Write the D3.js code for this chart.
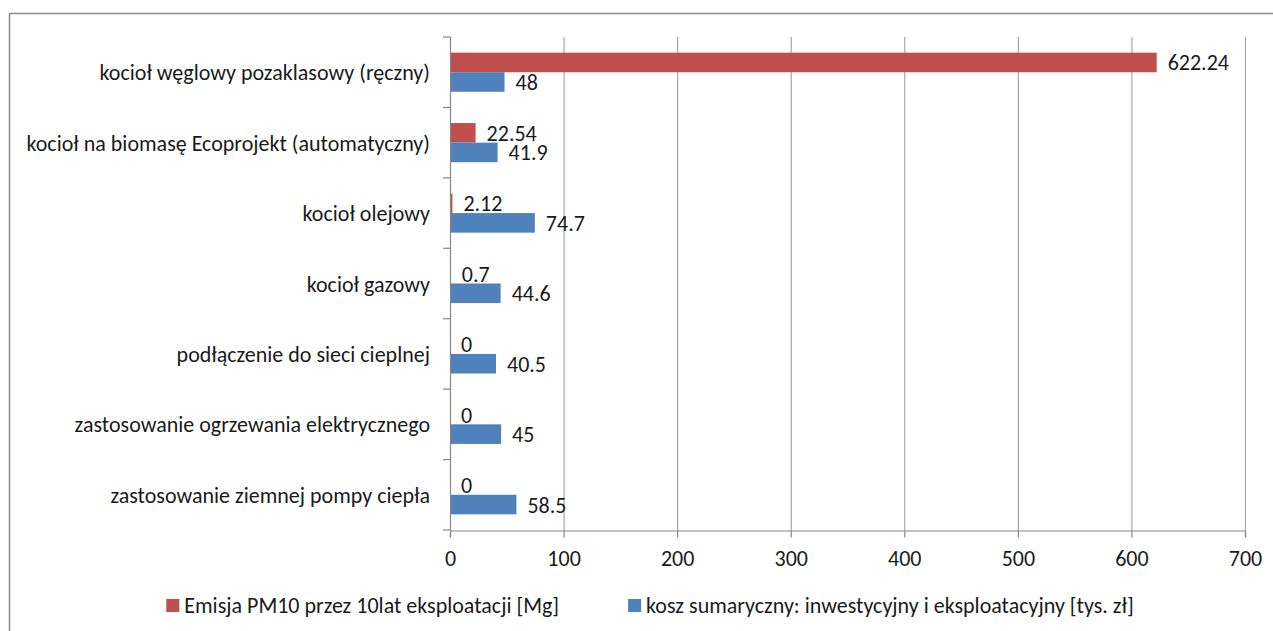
<!DOCTYPE html>
<html>
<head>
<meta charset="utf-8">
<script src="https://cdn.jsdelivr.net/npm/d3@7"></script>
<style>
  body { margin: 0; background: #fff; }
  svg text { font-family: Carlito, Lato, "Open Sans", sans-serif; fill: #1a1a1a; }
</style>
</head>
<body>
<div id="chart"></div>
<script>
var width = 1273;
var height = 631;

var categories = [
    "kocioł węglowy pozaklasowy (ręczny)",
    "kocioł na biomasę Ecoprojekt (automatyczny)",
    "kocioł olejowy",
    "kocioł gazowy",
    "podłączenie do sieci cieplnej",
    "zastosowanie ogrzewania elektrycznego",
    "zastosowanie ziemnej pompy ciepła"
];
var emisja = [622.24, 22.54, 2.12, 0.7, 0, 0, 0];
var koszt = [48, 41.9, 74.7, 44.6, 40.5, 45, 58.5];
var seriesNames = [
    "Emisja PM10 przez 10lat eksploatacji [Mg]",
    "kosz sumaryczny: inwestycyjny i eksploatacyjny [tys. zł]"
];
var seriesColors = ["#C0504D", "#4F81BD"];
var xTicks = [0, 100, 200, 300, 400, 500, 600, 700];

var fontSize = 22;

var svg = d3.select("#chart")
    .append("svg")
    .attr("width", width)
    .attr("height", height);

// outer chart frame
svg.append("rect")
    .attr("x", 9.5)
    .attr("y", 13.5)
    .attr("width", 1300)
    .attr("height", 700)
    .attr("fill", "none")
    .attr("stroke", "#8c8c8c")
    .attr("stroke-width", 1.5);

var xScale = d3.scaleLinear()
    .domain([0, 700])
    .range([450, 1245]);

var yScale = d3.scaleBand()
    .domain(categories)
    .range([37, 530])
    .padding(0);

var ySub = d3.scaleBand()
    .domain([0, 1])
    .range([0, yScale.bandwidth()])
    .paddingInner(0)
    .paddingOuter(0.8);

// gridlines
svg.append("g")
    .selectAll("line")
    .data(xTicks.slice(1))
    .enter()
    .append("line")
    .attr("x1", function(d) { return xScale(d) + 0.5; })
    .attr("x2", function(d) { return xScale(d) + 0.5; })
    .attr("y1", 37)
    .attr("y2", 530)
    .attr("stroke", "#a6a6a6")
    .attr("stroke-width", 1.2);

// rows of data: [category, series index, value]
var rows = [];
categories.forEach(function(c, i) {
    rows.push({cat: c, s: 0, v: emisja[i]});
    rows.push({cat: c, s: 1, v: koszt[i]});
});

svg.append("g")
    .selectAll("rect")
    .data(rows)
    .enter()
    .append("rect")
    .attr("x", xScale(0))
    .attr("y", function(d) { return yScale(d.cat) + ySub(d.s); })
    .attr("width", function(d) { return xScale(d.v) - xScale(0); })
    .attr("height", ySub.bandwidth())
    .attr("fill", function(d) { return seriesColors[d.s]; });

// value labels
svg.append("g")
    .selectAll("text")
    .data(rows)
    .enter()
    .append("text")
    .attr("x", function(d) { return xScale(d.v) + 11; })
    .attr("y", function(d) { return yScale(d.cat) + ySub(d.s) + ySub.bandwidth() / 2 + 8; })
    .attr("font-size", fontSize)
    .text(function(d) { return d.v; });

// x axis
var xAxis = d3.axisBottom(xScale)
    .tickValues(xTicks)
    .tickSize(7)
    .tickPadding(13)
    .tickFormat(d3.format("d"));

var gx = svg.append("g")
    .attr("transform", "translate(0,530.5)")
    .call(xAxis);
gx.select(".domain").attr("stroke", "#868686").attr("stroke-width", 1.2);
gx.selectAll(".tick line").attr("stroke", "#868686").attr("stroke-width", 1.2);
gx.selectAll(".tick text")
    .attr("font-size", fontSize)
    .attr("font-family", null)
    .attr("fill", "#1a1a1a");

// y axis (line + tick marks on band edges)
svg.append("line")
    .attr("x1", 450.5).attr("x2", 450.5)
    .attr("y1", 37).attr("y2", 530)
    .attr("stroke", "#868686")
    .attr("stroke-width", 1.2);

var edges = categories.map(function(c) { return yScale(c); }).concat([530]);
svg.append("g")
    .selectAll("line")
    .data(edges)
    .enter()
    .append("line")
    .attr("x1", 443).attr("x2", 450.5)
    .attr("y1", function(d) { return d; })
    .attr("y2", function(d) { return d; })
    .attr("stroke", "#868686")
    .attr("stroke-width", 1.2);

svg.append("g")
    .selectAll("text")
    .data(categories)
    .enter()
    .append("text")
    .attr("x", 430)
    .attr("y", function(d) { return yScale(d) + yScale.bandwidth() / 2 + 8; })
    .attr("text-anchor", "end")
    .attr("font-size", fontSize)
    .text(function(d) { return d; });

// legend
var legend = svg.append("g");
var items = legend.selectAll("g")
    .data(seriesNames)
    .enter()
    .append("g");
items.append("rect")
    .attr("width", 13)
    .attr("height", 13)
    .attr("y", 599)
    .attr("fill", function(d, i) { return seriesColors[i]; });
items.append("text")
    .attr("x", 18)
    .attr("y", 613)
    .attr("font-size", fontSize)
    .text(function(d) { return d; });

var widths = [];
items.each(function() {
    widths.push(18 + d3.select(this).select("text").node().getComputedTextLength());
});
var gap = 69;
var total = widths[0] + gap + widths[1];
var startX = 650 - total / 2;
items.attr("transform", function(d, i) {
    var xx = i == 0 ? startX : startX + widths[0] + gap;
    return "translate(" + xx + ",0)";
});
</script>
</body>
</html>
